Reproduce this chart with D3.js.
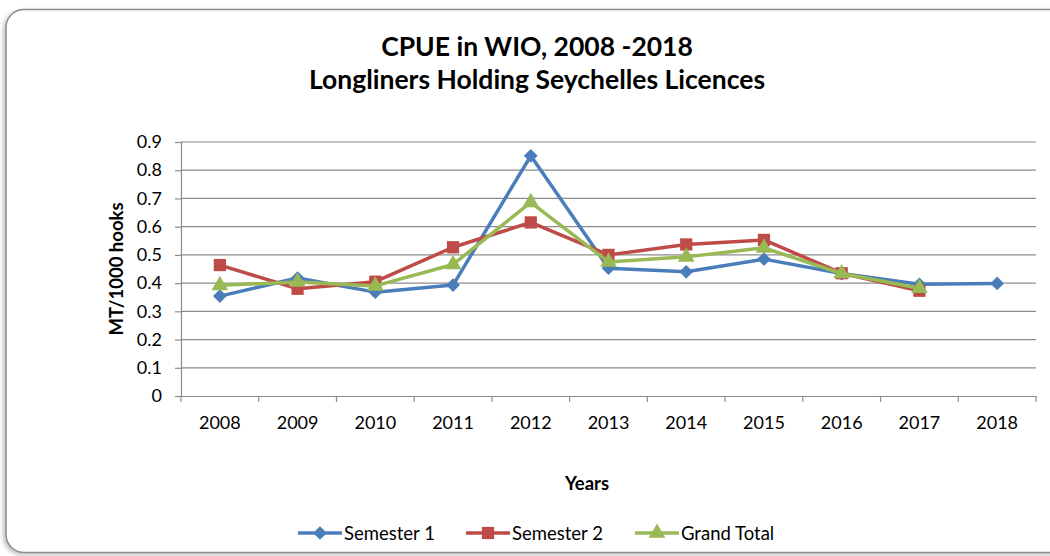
<!DOCTYPE html>
<html>
<head>
<meta charset="utf-8">
<script src="https://cdn.jsdelivr.net/npm/d3@7"></script>
<style>
  body { margin: 0; background: #fff; }
  svg { display: block; font-family: Lato, "Open Sans", sans-serif; }
</style>
</head>
<body>
<svg id="chart" width="1050" height="556"></svg>
<script>
const years = ["2008", "2009", "2010", "2011", "2012", "2013", "2014", "2015", "2016", "2017", "2018"];
const semester1 = [0.354, 0.418, 0.368, 0.393, 0.851, 0.453, 0.440, 0.485, 0.434, 0.396, 0.399];
const semester2 = [0.464, 0.380, 0.405, 0.527, 0.615, 0.500, 0.537, 0.553, 0.435, 0.373, null];
const grandTotal = [0.392, 0.404, 0.390, 0.466, 0.686, 0.475, 0.493, 0.525, 0.434, 0.382, null];
const yTicks = [0, 0.1, 0.2, 0.3, 0.4, 0.5, 0.6, 0.7, 0.8, 0.9];

const series = [
  { name: "Semester 1", values: semester1, color: "#4a7ebb", shape: d3.symbolDiamond2, size: 120 },
  { name: "Semester 2", values: semester2, color: "#be4b48", shape: d3.symbolSquare, size: 150 },
  { name: "Grand Total", values: grandTotal, color: "#98b954", shape: d3.symbolTriangle, size: 120 }
];

const svg = d3.select("#chart");

// frame with soft shadow
const defs = svg.append("defs");
const f = defs.append("filter").attr("id", "shadow").attr("x", "-5%").attr("y", "-5%").attr("width", "110%").attr("height", "110%");
f.append("feDropShadow").attr("dx", -2).attr("dy", 2).attr("stdDeviation", 2).attr("flood-color", "#000").attr("flood-opacity", 0.25);

svg.append("rect")
  .attr("x", 6).attr("y", 9.5)
  .attr("width", 1070).attr("height", 543)
  .attr("rx", 18)
  .attr("fill", "#fff")
  .attr("stroke", "#8a8a8a")
  .attr("stroke-width", 1.5)
  .attr("filter", "url(#shadow)");

const margin = { left: 181, right: 1036, top: 142, bottom: 396 };

const x = d3.scaleBand().domain(years).range([margin.left, margin.right]);
const y = d3.scaleLinear().domain([0, 0.9]).range([margin.bottom, margin.top]);

// gridlines
svg.append("g")
  .selectAll("line")
  .data(yTicks.slice(1))
  .join("line")
  .attr("x1", margin.left).attr("x2", margin.right)
  .attr("y1", d => y(d)).attr("y2", d => y(d))
  .attr("stroke", "#8c8c8c")
  .attr("stroke-width", 1.2);

// y axis
const yAxis = svg.append("g")
  .attr("transform", `translate(${margin.left},0)`)
  .call(d3.axisLeft(y).tickValues(yTicks).tickFormat(d => d === 0 ? "0" : d3.format(".1f")(d)).tickSize(6).tickPadding(13));
yAxis.select(".domain").attr("stroke", "#8c8c8c").attr("stroke-width", 1.2);
yAxis.selectAll(".tick line").attr("stroke", "#8c8c8c").attr("stroke-width", 1.2);
yAxis.selectAll(".tick text").attr("font-size", 18).attr("fill", "#000").attr("font-family", "Lato, sans-serif");

// x axis
const xAxis = svg.append("g")
  .attr("transform", `translate(0,${margin.bottom})`)
  .call(d3.axisBottom(x).tickSize(0).tickPadding(20));
xAxis.select(".domain").attr("stroke", "#8c8c8c").attr("stroke-width", 1.2);
xAxis.selectAll(".tick text").attr("font-size", 18).attr("fill", "#000").attr("font-family", "Lato, sans-serif");
// ticks between categories
xAxis.append("g")
  .selectAll("line")
  .data(years.concat(["end"]))
  .join("line")
  .attr("x1", (d, i) => margin.left + i * x.step())
  .attr("x2", (d, i) => margin.left + i * x.step())
  .attr("y1", 0).attr("y2", 6)
  .attr("stroke", "#8c8c8c")
  .attr("stroke-width", 1.2);

// lines and markers
const line = d3.line()
  .defined(d => d.v != null)
  .x(d => x(d.year) + x.bandwidth() / 2)
  .y(d => y(d.v));

series.forEach(s => {
  const pts = years.map((yr, i) => ({ year: yr, v: s.values[i] }));
  svg.append("path")
    .datum(pts)
    .attr("fill", "none")
    .attr("stroke", s.color)
    .attr("stroke-width", 3.5)
    .attr("stroke-linejoin", "round")
    .attr("d", line);
  svg.append("g")
    .selectAll("path")
    .data(pts.filter(d => d.v != null))
    .join("path")
    .attr("transform", d => `translate(${x(d.year) + x.bandwidth() / 2},${y(d.v)})`)
    .attr("d", d3.symbol(s.shape, s.size))
    .attr("fill", s.color);
});

// titles
const title = svg.append("text")
  .attr("text-anchor", "middle")
  .attr("font-weight", "bold")
  .attr("font-size", 26.5)
  .attr("fill", "#000");
title.append("tspan").attr("x", 537).attr("y", 56).text("CPUE in WIO, 2008 -2018");
title.append("tspan").attr("x", 537).attr("y", 89).text("Longliners Holding Seychelles Licences");

svg.append("text")
  .attr("x", 587).attr("y", 490)
  .attr("text-anchor", "middle")
  .attr("font-weight", "bold")
  .attr("font-size", 18.5)
  .text("Years");

svg.append("text")
  .attr("transform", `translate(123,${(margin.top + margin.bottom) / 2}) rotate(-90)`)
  .attr("text-anchor", "middle")
  .attr("font-weight", "bold")
  .attr("font-size", 18.5)
  .text("MT/1000 hooks");

// legend
const legendX = [298, 466, 635];
const legend = svg.append("g").attr("transform", "translate(0,533)");
series.forEach((s, i) => {
  const g = legend.append("g").attr("transform", `translate(${legendX[i]},0)`);
  g.append("line").attr("x1", 0).attr("x2", 44).attr("stroke", s.color).attr("stroke-width", 3.5);
  g.append("path").attr("transform", "translate(22,0)").attr("d", d3.symbol(s.shape, s.size)).attr("fill", s.color);
  g.append("text").attr("x", 46).attr("y", 7).attr("font-size", 18.5).text(s.name);
});
</script>
</body>
</html>
